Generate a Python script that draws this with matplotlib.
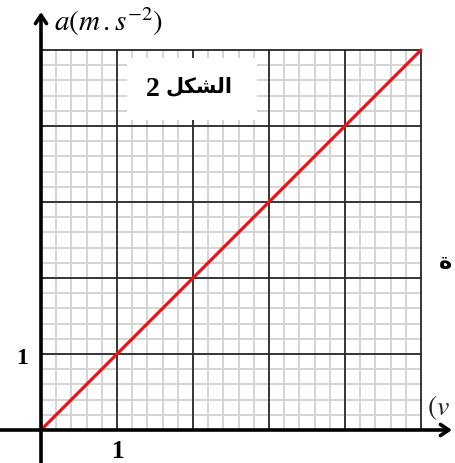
import matplotlib
matplotlib.use("Agg")
import matplotlib.pyplot as plt
import numpy as np
from matplotlib.patches import Rectangle

# graph data: acceleration a against v, straight line through the origin
v_values = [0, 5]
a_values = [0, 5]

n_major = 5          # major squares per axis
n_minor = 5          # minor squares per major square
tick_label_x = "1"
tick_label_y = "1"
fig_number = "2"
fig_word = "\uFEDE\uFEDC\uFEB8\uFEDF\uFE8D"   # الشكل (shaped, visual order)
side_text = "\u0629"

W, H, DPI = 455, 463, 100
unit = 76.0           # pixels per major square
ox, oy = 41.0, 430.0  # origin position in pixels (from top-left)


def px(x, y):
    """pixel position (from top-left) to data coordinates"""
    return (x - ox) / unit, (oy - y) / unit


fig = plt.figure(figsize=(W / DPI, H / DPI), dpi=DPI)
ax = fig.add_axes([0, 0, 1, 1])
ax.set_xlim(-ox / unit, (W - ox) / unit)
ax.set_ylim(-(H - oy) / unit, oy / unit)
ax.axis("off")

# minor grid
minor = np.arange(0, n_major * n_minor + 1) / n_minor
for t in minor:
    ax.plot([t, t], [0, n_major], color="#d4d4d4", lw=1.4, zorder=1)
    ax.plot([0, n_major], [t, t], color="#d4d4d4", lw=1.4, zorder=1)

# white label box sits over the minor grid
ax.add_patch(Rectangle((1.13, 4.08), 1.71, 0.81, facecolor="white",
                       edgecolor="none", zorder=2))

# major grid
for t in range(0, n_major + 1):
    ax.plot([t, t], [0, n_major], color="#2a2a2a", lw=1.3, zorder=3)
    ax.plot([0, n_major], [t, t], color="#2a2a2a", lw=1.3, zorder=3)

# white box redrawn over the middle major line only
ax.add_patch(Rectangle((1.16, 4.08), 1.65, 0.81, facecolor="white",
                       edgecolor="none", zorder=3.5))

# the data line
ax.plot(v_values, a_values, color="#e5141b", lw=2.3, zorder=5,
        solid_capstyle="round")

# axes with arrow heads
arrow_kw = dict(arrowstyle="->,head_length=0.6,head_width=0.4",
                lw=2.6, color="black", shrinkA=0, shrinkB=0)
ax.annotate("", xy=px(41, 12), xytext=px(41, H),
            arrowprops=arrow_kw, zorder=6)
ax.annotate("", xy=px(452, 430), xytext=px(0, 430),
            arrowprops=arrow_kw, zorder=6)

# axis titles
ax.text(*px(54, 22), r"$a(m\,.s^{-2})$",
        fontsize=21, va="center", ha="left", zorder=7,
        math_fontfamily="stix")
ax.text(*px(427, 408), r"$(v$",
        fontsize=20, va="center", ha="left", zorder=7,
        math_fontfamily="stix", color="#222222")

# unit tick labels
ax.text(*px(22, 358), tick_label_y, fontsize=17, fontweight="bold",
        family="Liberation Serif", ha="center", va="center", zorder=7)
ax.text(*px(118, 451), tick_label_x, fontsize=18, fontweight="bold",
        family="Liberation Serif", ha="center", va="center", zorder=7)

# figure caption inside the box
ax.text(*px(153, 90), fig_number, fontsize=20, fontweight="bold",
        family="Liberation Serif", ha="center", va="center", zorder=7)
ax.text(*px(199, 86), fig_word, fontsize=15, fontweight="bold",
        family="DejaVu Sans", ha="center", va="center", zorder=7)

ax.text(*px(445, 262), side_text, fontsize=16,
        fontweight="bold", family="DejaVu Sans", ha="center", va="center",
        zorder=7)

fig.savefig("out.png", dpi=DPI)
